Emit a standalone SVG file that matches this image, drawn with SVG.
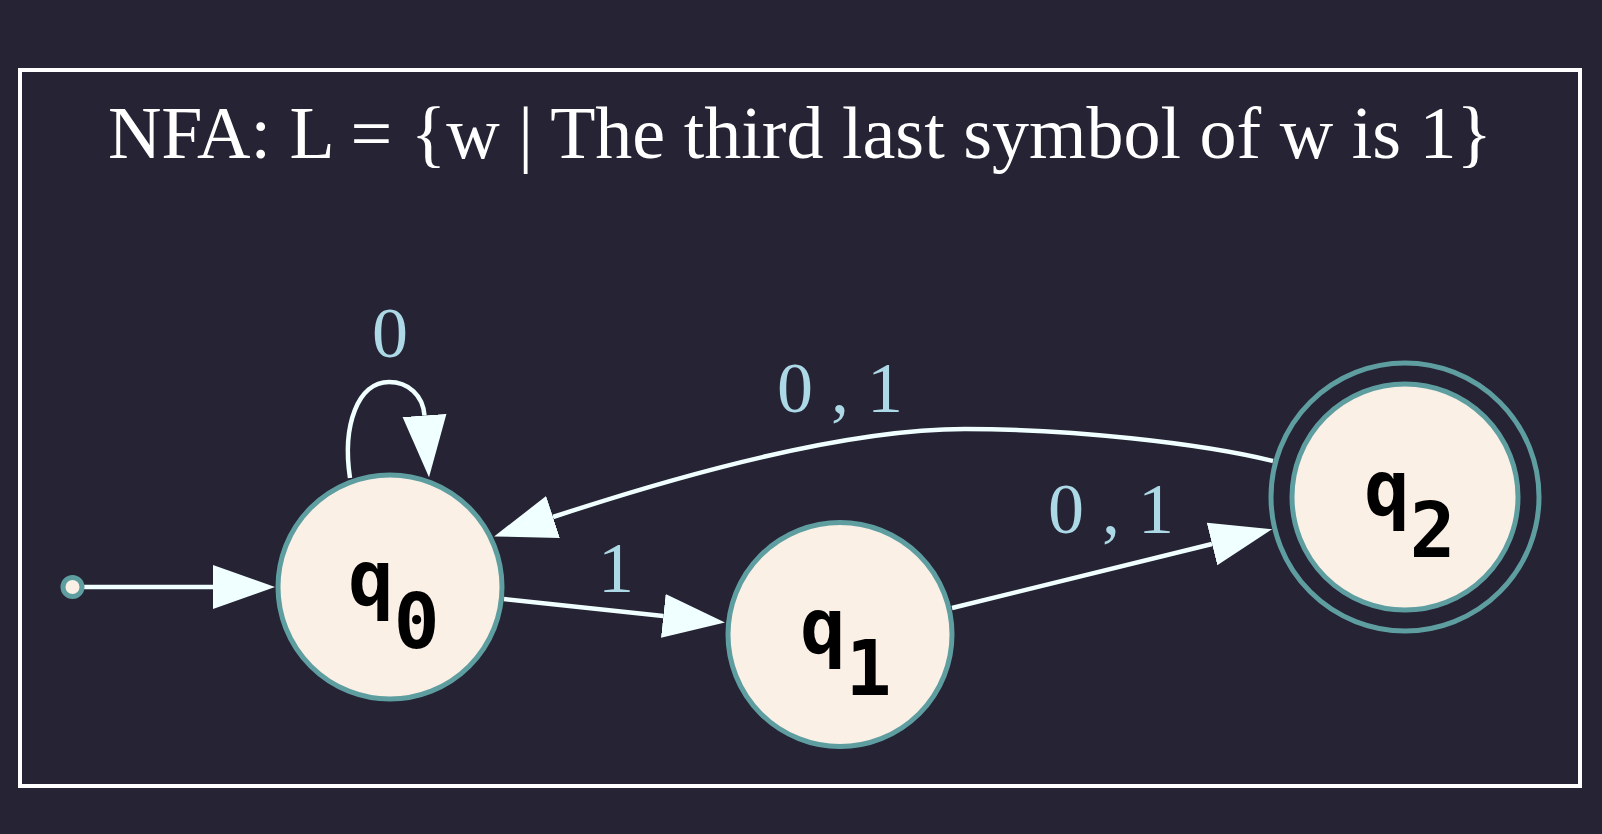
<svg xmlns="http://www.w3.org/2000/svg" width="1602" height="834" viewBox="0 0 1602 834">
  <style>
    .node { fill: #faf0e6; stroke: #5f9ea0; stroke-width: 5; }
    .ring { fill: none; stroke: #5f9ea0; stroke-width: 5; }
    .edge { fill: none; stroke: #f0ffff; stroke-width: 4.5; }
    .elabel { font-family: "Liberation Serif", "Times New Roman", serif; font-size: 72px; fill: #add8e6; text-anchor: middle; }
    .nlabel { font-family: "DejaVu Sans Mono", "Liberation Mono", monospace; font-weight: bold; font-size: 76px; fill: #000000; }
    .title { font-family: "Liberation Serif", "Times New Roman", serif; font-size: 74px; fill: #ffffff; text-anchor: middle; }
  </style>
  <defs>
    <marker id="arrow" markerUnits="userSpaceOnUse" markerWidth="64" markerHeight="46" viewBox="0 -23 64 46" refX="0" refY="0" orient="auto">
      <path d="M0,-22 L62,0 L0,22 Z" fill="#f0ffff"/>
    </marker>
  </defs>
  <rect x="0" y="0" width="1602" height="834" fill="#252334"/>
  <rect x="20" y="70" width="1560" height="716" fill="none" stroke="#ffffff" stroke-width="4"/>
  <text class="title" x="800" y="158">NFA: L = {w | The third last symbol of w is 1}</text>

  <g id="connectors">
    <path id="e-start-q0" class="edge" d="M83,587 L213,587" marker-end="url(#arrow)"/>
    <path id="e-q0-q0" class="edge" d="M350,478 C342,425 358,382 389,382 C408,382 423,395 424.5,415.5" marker-end="url(#arrow)"/>
    <path id="e-q0-q1" class="edge" d="M504,599 L663.3,616" marker-end="url(#arrow)"/>
    <path id="e-q1-q2" class="edge" d="M952,608 L1212,544" marker-end="url(#arrow)"/>
    <path id="e-q2-q0" class="edge" d="M1273,461 C1200,443 1070,429 965,429 C860,429 720,462 553,517" marker-end="url(#arrow)"/>
    <text class="elabel" x="390" y="357">0</text>
    <text class="elabel" x="616" y="592">1</text>
    <text class="elabel" x="1111" y="533">0 , 1</text>
    <text class="elabel" x="840" y="412">0 , 1</text>
  </g>

  <g id="start">
    <circle class="node" cx="72.5" cy="587" r="9.5"/>
  </g>
  <g id="q0">
    <circle class="node" cx="390" cy="587" r="112"/>
    <text class="nlabel" x="348" y="605">q<tspan dy="43">0</tspan></text>
  </g>
  <g id="q1">
    <circle class="node" cx="840" cy="634.5" r="112"/>
    <text class="nlabel" x="800" y="653">q<tspan dy="42">1</tspan></text>
  </g>
  <g id="q2">
    <circle class="ring" cx="1405" cy="497" r="134"/>
    <circle class="node" cx="1405" cy="497" r="113"/>
    <text class="nlabel" x="1364" y="515">q<tspan dy="42">2</tspan></text>
  </g>
</svg>
